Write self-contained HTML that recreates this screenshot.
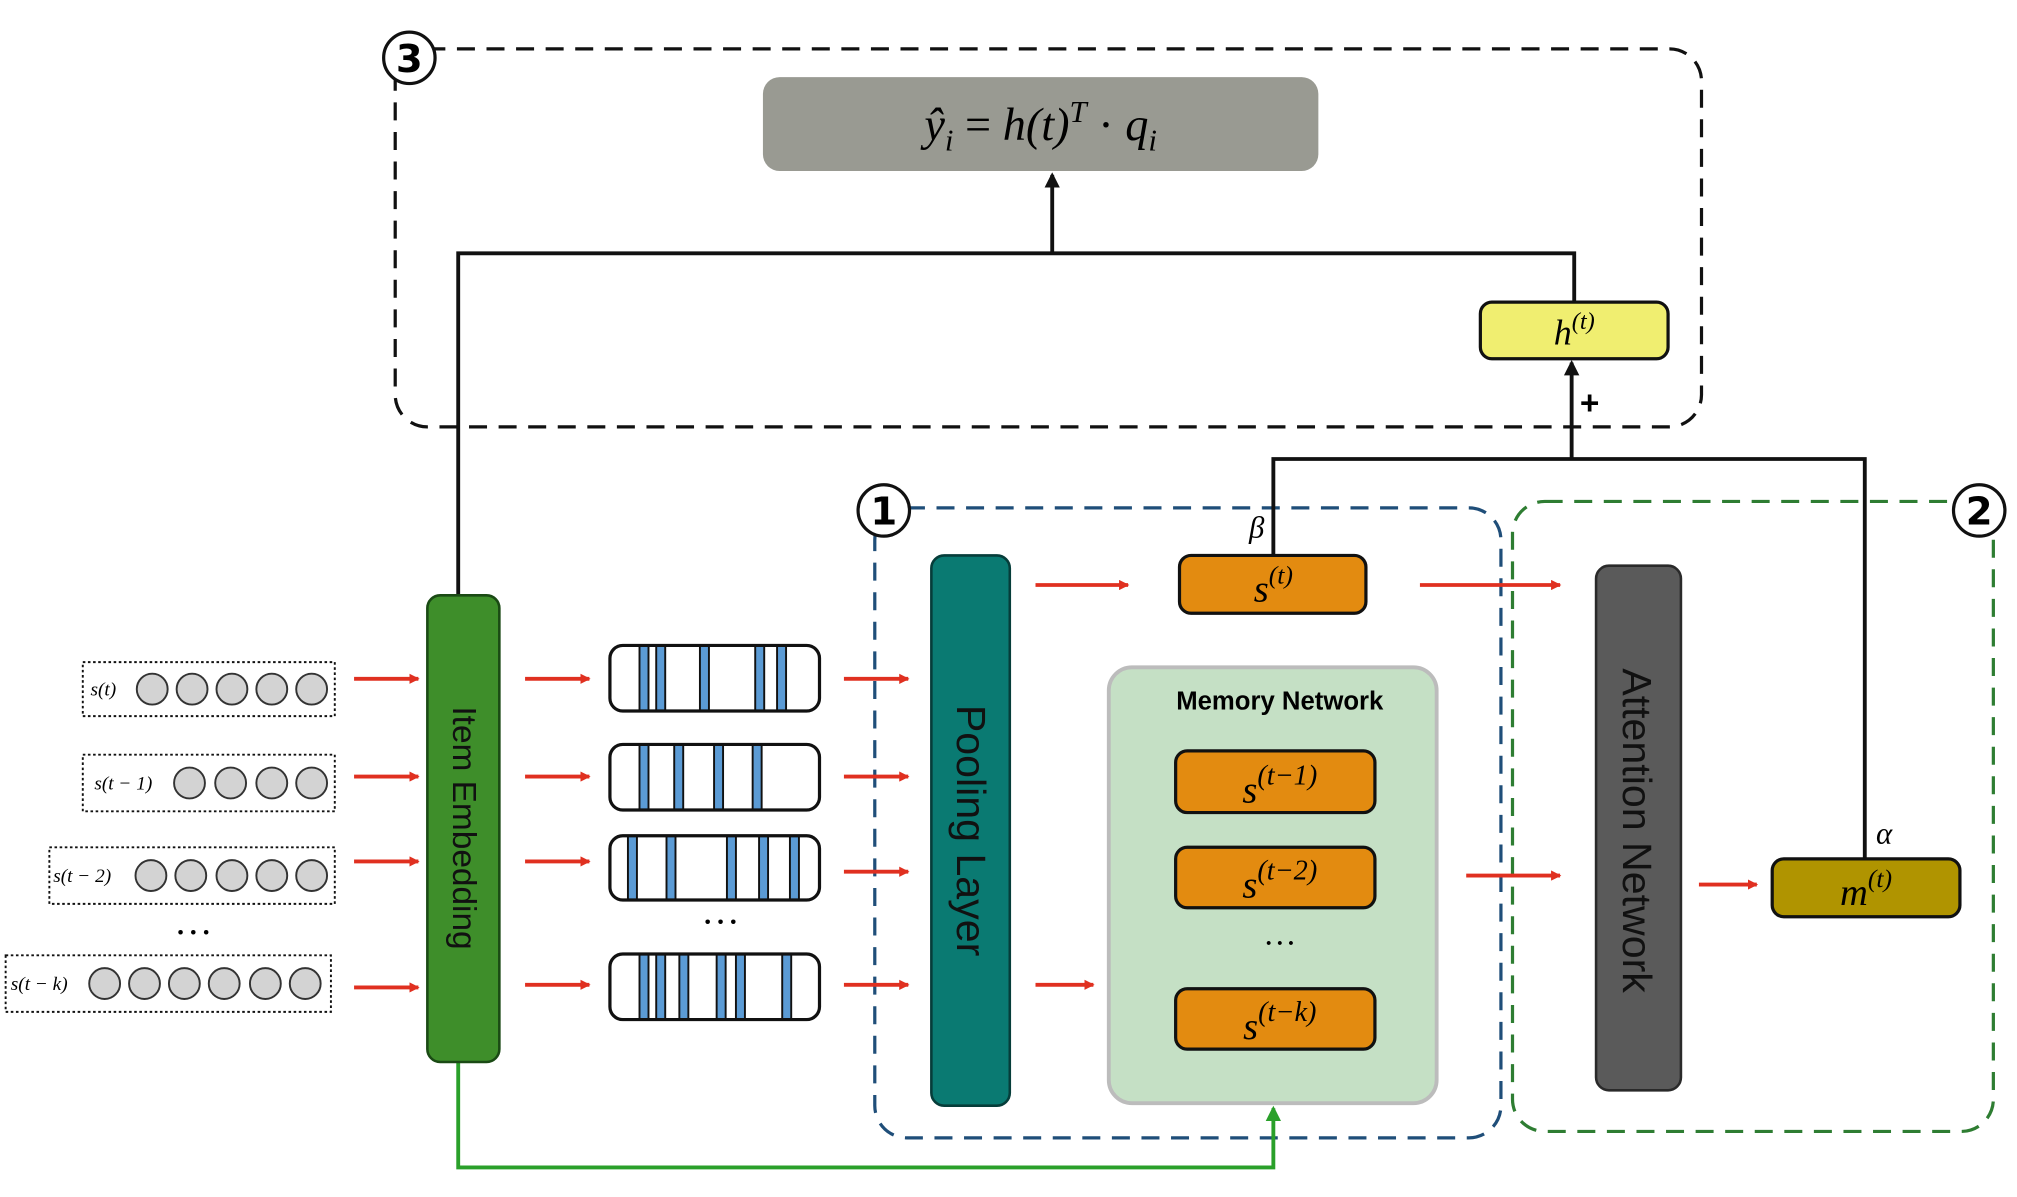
<!DOCTYPE html>
<html><head><meta charset="utf-8"><style>html,body{margin:0;padding:0;background:#fff}svg{display:block}</style></head><body>
<svg width="2017" height="1197" viewBox="0 0 1568 931" xmlns="http://www.w3.org/2000/svg" font-family="Liberation Serif, serif">
<defs>
<marker id="ar" markerWidth="8" markerHeight="8" refX="7" refY="4" orient="auto" markerUnits="userSpaceOnUse"><path d="M0,0 L8,4 L0,8 Z" fill="#e03020"/></marker>
<marker id="ab" markerWidth="12" markerHeight="12" refX="10" refY="6" orient="auto" markerUnits="userSpaceOnUse"><path d="M0,0 L12,6 L0,12 Z" fill="#111"/></marker>
<marker id="ag" markerWidth="12" markerHeight="12" refX="10" refY="6" orient="auto" markerUnits="userSpaceOnUse"><path d="M0,0 L12,6 L0,12 Z" fill="#2aa02a"/></marker>
</defs>
<!-- region boxes -->
<rect x="307" y="38" width="1016" height="294" rx="25" fill="none" stroke="#111" stroke-width="2.5" stroke-dasharray="14,9"/>
<rect x="680" y="395" width="487" height="490" rx="25" fill="none" stroke="#1f4e79" stroke-width="2.5" stroke-dasharray="14,9"/>
<rect x="1176" y="390" width="374" height="490" rx="25" fill="none" stroke="#2e7d32" stroke-width="2.5" stroke-dasharray="14,9"/>
<g font-family="DejaVu Sans, sans-serif" font-size="30" text-anchor="middle">
<circle cx="318" cy="45" r="20" fill="#fff" stroke="#111" stroke-width="2.5"/><text x="318" y="56" font-weight="bold">3</text>
<circle cx="687" cy="397" r="20" fill="#fff" stroke="#111" stroke-width="2.5"/><text x="687" y="408" font-weight="bold">1</text>
<circle cx="1539" cy="397" r="20" fill="#fff" stroke="#111" stroke-width="2.5"/><text x="1539" y="408" font-weight="bold">2</text>
</g>
<!-- formula -->
<rect x="593" y="60" width="432" height="73" rx="13" fill="#999a92"/>
<text x="809" y="109" font-size="36" font-style="italic" text-anchor="middle">ŷ<tspan font-size="24" dy="8">i</tspan><tspan dy="-8" font-style="normal"> = </tspan>h(t)<tspan font-size="24" dy="-14">T</tspan><tspan dy="14" font-style="normal"> · </tspan>q<tspan font-size="24" dy="8">i</tspan></text>
<!-- black lines -->
<path d="M356,463 V197 H1224 V235" fill="none" stroke="#111" stroke-width="3"/>
<line x1="818" y1="197" x2="818" y2="136" stroke="#111" stroke-width="3" marker-end="url(#ab)"/>
<rect x="1151" y="235" width="146" height="44" rx="9" fill="#f0ee70" stroke="#111" stroke-width="2.5"/>
<text x="1224" y="268" font-size="28" font-style="italic" text-anchor="middle">h<tspan font-size="19" dy="-12">(t)</tspan></text>
<path d="M990,432 V357 H1450 V668" fill="none" stroke="#111" stroke-width="3"/>
<line x1="1222" y1="357" x2="1222" y2="282" stroke="#111" stroke-width="3" marker-end="url(#ab)"/>
<text x="1236" y="322" font-size="26" font-weight="bold" text-anchor="middle" font-family="Liberation Sans, sans-serif">+</text>
<text x="977" y="418" font-size="24" font-style="italic" text-anchor="middle">β</text>
<text x="1465" y="656" font-size="24" font-style="italic" text-anchor="middle">α</text>
<!-- green line -->
<path d="M356,826 V908 H990 V862" fill="none" stroke="#2aa02a" stroke-width="3" marker-end="url(#ag)"/>
<!-- item embedding -->
<rect x="332" y="463" width="56" height="363" rx="10" fill="#3e8e2a" stroke="#1a4a14" stroke-width="2"/>
<text transform="translate(352,644) rotate(90)" font-size="26" text-anchor="middle" font-family="Liberation Sans, sans-serif" fill="#111">Item Embedding</text>
<!-- inputs -->
<g stroke="#111" stroke-width="1.5" stroke-dasharray="2,2" fill="none">
<rect x="64" y="515" width="196" height="42"/><rect x="64" y="587" width="196" height="44"/><rect x="38" y="659" width="222" height="44"/><rect x="4" y="743" width="253" height="44"/>
</g>
<g fill="#d3d3d3" stroke="#333" stroke-width="1.5">
<circle cx="118" cy="536" r="12"/><circle cx="149" cy="536" r="12"/><circle cx="180" cy="536" r="12"/><circle cx="211" cy="536" r="12"/><circle cx="242" cy="536" r="12"/>
<circle cx="147" cy="609" r="12"/><circle cx="179" cy="609" r="12"/><circle cx="211" cy="609" r="12"/><circle cx="242" cy="609" r="12"/>
<circle cx="117" cy="681" r="12"/><circle cx="148" cy="681" r="12"/><circle cx="180" cy="681" r="12"/><circle cx="211" cy="681" r="12"/><circle cx="242" cy="681" r="12"/>
<circle cx="81" cy="765" r="12"/><circle cx="112" cy="765" r="12"/><circle cx="143" cy="765" r="12"/><circle cx="174" cy="765" r="12"/><circle cx="206" cy="765" r="12"/><circle cx="237" cy="765" r="12"/>
</g>
<g font-size="15" font-style="italic">
<text x="70" y="541">s(t)</text><text x="73" y="614">s(t − 1)</text><text x="41" y="686">s(t − 2)</text><text x="8" y="770">s(t − k)</text>
</g>
<text x="150" y="735" font-size="30" text-anchor="middle">···</text>
<!-- red arrows -->
<g stroke="#e03020" stroke-width="3" marker-end="url(#ar)">
<line x1="275" y1="528" x2="325" y2="528"/><line x1="275" y1="604" x2="325" y2="604"/><line x1="275" y1="670" x2="325" y2="670"/><line x1="275" y1="768" x2="325" y2="768"/>
<line x1="408" y1="528" x2="458" y2="528"/><line x1="408" y1="604" x2="458" y2="604"/><line x1="408" y1="670" x2="458" y2="670"/><line x1="408" y1="766" x2="458" y2="766"/>
<line x1="656" y1="528" x2="706" y2="528"/><line x1="656" y1="604" x2="706" y2="604"/><line x1="656" y1="678" x2="706" y2="678"/><line x1="656" y1="766" x2="706" y2="766"/>
<line x1="805" y1="455" x2="877" y2="455"/><line x1="805" y1="766" x2="850" y2="766"/>
<line x1="1104" y1="455" x2="1213" y2="455"/><line x1="1140" y1="681" x2="1213" y2="681"/><line x1="1321" y1="688" x2="1366" y2="688"/>
</g>
<!-- embedding vectors -->
<g fill="#5b9bd5" stroke="#111" stroke-width="1.5">
<rect x="497" y="502" width="7" height="51"/><rect x="510" y="502" width="7" height="51"/><rect x="544" y="502" width="7" height="51"/><rect x="587" y="502" width="7" height="51"/><rect x="604" y="502" width="7" height="51"/>
<rect x="497" y="579" width="7" height="51"/><rect x="524" y="579" width="7" height="51"/><rect x="555" y="579" width="7" height="51"/><rect x="585" y="579" width="7" height="51"/>
<rect x="488" y="650" width="7" height="50"/><rect x="518" y="650" width="7" height="50"/><rect x="565" y="650" width="7" height="50"/><rect x="590" y="650" width="7" height="50"/><rect x="614" y="650" width="7" height="50"/>
<rect x="497" y="742" width="7" height="51"/><rect x="510" y="742" width="7" height="51"/><rect x="528" y="742" width="7" height="51"/><rect x="557" y="742" width="7" height="51"/><rect x="572" y="742" width="7" height="51"/><rect x="608" y="742" width="7" height="51"/>
</g>
<g fill="none" stroke="#111" stroke-width="2.5">
<rect x="474" y="502" width="163" height="51" rx="10"/><rect x="474" y="579" width="163" height="51" rx="10"/><rect x="474" y="650" width="163" height="50" rx="10"/><rect x="474" y="742" width="163" height="51" rx="10"/>
</g>
<text x="560" y="727" font-size="30" text-anchor="middle">···</text>
<!-- pooling -->
<rect x="724" y="432" width="61" height="428" rx="10" fill="#0a7a72" stroke="#063d3a" stroke-width="2"/>
<text transform="translate(744,646) rotate(90)" font-size="32" text-anchor="middle" font-family="Liberation Sans, sans-serif" fill="#111">Pooling Layer</text>
<!-- s(t) -->
<rect x="917" y="432" width="145" height="45" rx="9" fill="#e38b10" stroke="#111" stroke-width="2.5"/>
<text x="990" y="468" font-size="30" font-style="italic" text-anchor="middle">s<tspan font-size="20" dy="-14">(t)</tspan></text>
<!-- memory network -->
<rect x="862" y="519" width="255" height="339" rx="18" fill="#c5e0c5" stroke="#bcbcbc" stroke-width="3"/>
<text x="995" y="552" font-size="20" font-weight="bold" text-anchor="middle" font-family="Liberation Sans, sans-serif">Memory Network</text>
<g fill="#e38b10" stroke="#111" stroke-width="2.5">
<rect x="914" y="584" width="155" height="48" rx="9"/><rect x="914" y="659" width="155" height="47" rx="9"/><rect x="914" y="769" width="155" height="47" rx="9"/>
</g>
<g font-size="30" font-style="italic" text-anchor="middle">
<text x="995" y="624">s<tspan font-size="22" dy="-14">(t−1)</tspan></text>
<text x="995" y="698">s<tspan font-size="22" dy="-14">(t−2)</tspan></text>
<text x="995" y="808">s<tspan font-size="22" dy="-14">(t−k)</tspan></text>
</g>
<text x="995" y="742" font-size="26" text-anchor="middle">···</text>
<!-- attention -->
<rect x="1241" y="440" width="66" height="408" rx="10" fill="#5a5a5a" stroke="#2a2a2a" stroke-width="2"/>
<text transform="translate(1262,646) rotate(90)" font-size="32" text-anchor="middle" font-family="Liberation Sans, sans-serif" fill="#111">Attention Network</text>
<rect x="1378" y="668" width="146" height="45" rx="9" fill="#b09400" stroke="#111" stroke-width="2.5"/>
<text x="1451" y="704" font-size="30" font-style="italic" text-anchor="middle">m<tspan font-size="20" dy="-14">(t)</tspan></text>
</svg>
</body></html>
